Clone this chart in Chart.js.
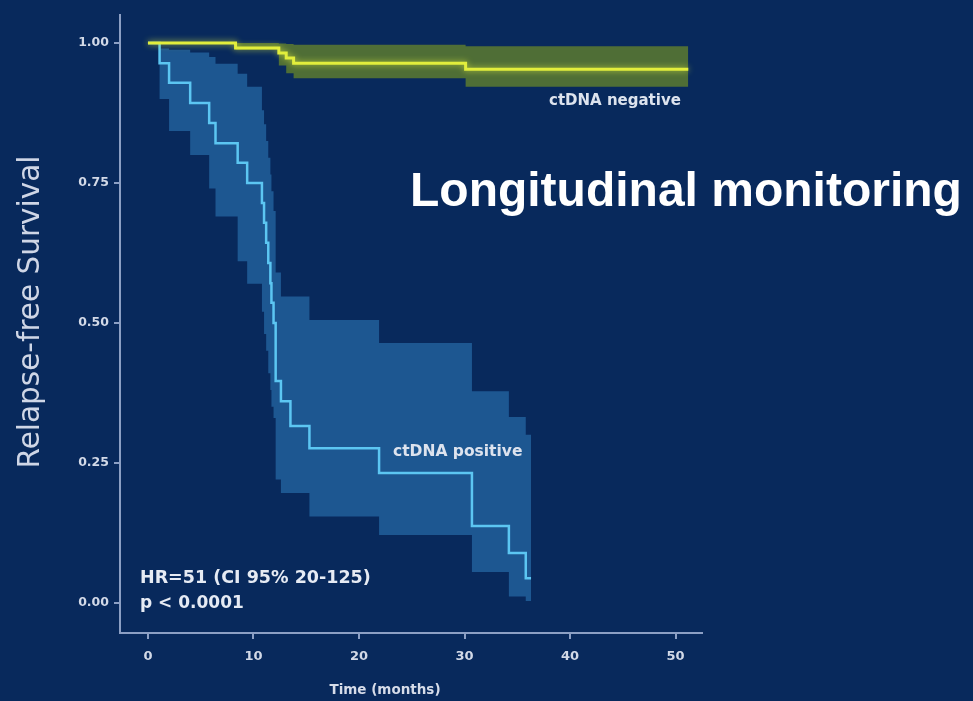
<!DOCTYPE html>
<html>
<head>
<meta charset="utf-8">
<script src="https://cdn.jsdelivr.net/npm/chart.js@4/dist/chart.umd.min.js"></script>
<style>
  html, body { margin: 0; padding: 0; background: #08295c; }
  #wrap { width: 973px; height: 701px; }
  canvas { display: block; }
</style>
</head>
<body>
<div id="wrap"><canvas id="km" width="973" height="701"></canvas></div>
<script>
// Kaplan–Meier relapse-free survival, time in months.
// ctDNA positive group: event times, survival estimate and 95% CI bounds
const posTime  = [0, 1.1, 2.0, 4.0, 5.8, 6.4, 8.5, 9.4, 10.8, 11.0, 11.2, 11.4, 11.6, 11.7, 11.9, 12.1, 12.6, 13.5, 15.3, 21.9, 30.7, 34.2, 35.8, 36.3];
const posSurv  = [1.0, 0.964, 0.929, 0.893, 0.857, 0.821, 0.786, 0.750, 0.714, 0.679, 0.643, 0.607, 0.571, 0.536, 0.500, 0.396, 0.360, 0.316, 0.276, 0.232, 0.137, 0.089, 0.044, 0.044];
const posUpper = [1.0, 0.990, 0.988, 0.983, 0.975, 0.963, 0.945, 0.922, 0.880, 0.855, 0.825, 0.795, 0.765, 0.735, 0.700, 0.590, 0.547, 0.547, 0.505, 0.464, 0.378, 0.332, 0.300, 0.300];
const posLower = [1.0, 0.900, 0.843, 0.800, 0.740, 0.690, 0.610, 0.570, 0.520, 0.480, 0.450, 0.410, 0.380, 0.350, 0.330, 0.220, 0.196, 0.196, 0.154, 0.121, 0.055, 0.011, 0.003, 0.003];

// ctDNA negative group
const negTime  = [0, 8.3, 12.4, 13.1, 13.8, 30.1, 51.2];
const negSurv  = [1.0, 0.991, 0.982, 0.973, 0.964, 0.953, 0.953];
const negUpper = [1.0, 1.0, 0.999, 0.998, 0.997, 0.994, 0.994];
const negLower = [1.0, 0.988, 0.960, 0.946, 0.937, 0.922, 0.922];

// axes
const xTicks = [0, 10, 20, 30, 40, 50];
const xTickLabels = ['0', '10', '20', '30', '40', '50'];
const yTicks = [0, 0.25, 0.5, 0.75, 1];
const yTickLabels = ['0.00', '0.25', '0.50', '0.75', '1.00'];
const seriesNames = ['ctDNA positive', 'ctDNA negative'];

const BG = '#08295c';
const AXIS = '#8c9fc4';
const TICK_TEXT = '#d2d9e7';

const toPoints = (xs, ys) => xs.map((x, i) => ({ x: x, y: ys[i] }));

const stepLine = (label, xs, ys, color, width, order) => ({
  label: label,
  data: toPoints(xs, ys),
  stepped: 'before',
  borderColor: color,
  borderWidth: width,
  pointRadius: 0,
  fill: false,
  order: order
});

const band = (label, xs, ys, fillColor, fillTarget) => ({
  label: label,
  data: toPoints(xs, ys),
  stepped: 'before',
  borderWidth: 0,
  borderColor: 'rgba(0,0,0,0)',
  backgroundColor: fillColor,
  pointRadius: 0,
  fill: fillTarget,
  order: 5
});

// background, glow on the negative curve, and text annotations
const decor = {
  id: 'decor',
  beforeDraw(chart) {
    const c = chart.ctx;
    c.save();
    c.fillStyle = BG;
    c.fillRect(0, 0, chart.width, chart.height);
    c.restore();
  },
  beforeDatasetDraw(chart, args) {
    if (args.meta.label === seriesNames[1]) {
      chart.ctx.save();
      chart.ctx.shadowColor = 'rgba(225,240,60,0.75)';
      chart.ctx.shadowBlur = 6;
    }
  },
  afterDatasetDraw(chart, args) {
    if (args.meta.label === seriesNames[1]) chart.ctx.restore();
  },
  afterDraw(chart) {
    const c = chart.ctx;
    c.save();
    // y axis title
    c.fillStyle = '#cfd6e6';
    c.font = '29.5px "DejaVu Sans"';
    c.textAlign = 'center';
    c.textBaseline = 'middle';
    c.translate(31, 312);
    c.rotate(-Math.PI / 2);
    c.fillText('Relapse-free Survival', 0, 0);
    c.restore();

    c.save();
    c.fillStyle = '#d6dce9';
    c.font = 'bold 13.5px "DejaVu Sans"';
    c.textAlign = 'center';
    c.textBaseline = 'middle';
    c.fillText('Time (months)', 385, 690);

    // headline
    c.fillStyle = '#ffffff';
    c.font = 'bold 48px "Liberation Sans"';
    c.textAlign = 'left';
    c.textBaseline = 'alphabetic';
    c.fillText('Longitudinal monitoring', 410, 206);

    // curve labels
    c.fillStyle = '#dde3ee';
    c.textBaseline = 'middle';
    c.font = 'bold 15px "DejaVu Sans"';
    c.fillText(seriesNames[1], 549, 101);
    c.font = 'bold 15.5px "DejaVu Sans"';
    c.fillText(seriesNames[0], 393, 452);

    // hazard ratio
    c.fillStyle = '#e6ebf4';
    c.font = 'bold 17.5px "DejaVu Sans"';
    c.fillText('HR=51 (CI 95% 20-125)', 140, 578);
    c.font = 'bold 17px "DejaVu Sans"';
    c.fillText('p < 0.0001', 140, 604);
    c.restore();
  }
};

new Chart(document.getElementById('km'), {
  type: 'line',
  data: {
    datasets: [
      stepLine(seriesNames[1], negTime, negSurv, '#e2ee3c', 3, 0),
      stepLine(seriesNames[0], posTime, posSurv, '#5cc6f2', 2.5, 1),
      band('neg upper', negTime, negUpper, '#4f6e36', '+1'),
      band('neg lower', negTime, negLower, 'rgba(0,0,0,0)', false),
      band('pos upper', posTime, posUpper, '#1d5791', '+1'),
      band('pos lower', posTime, posLower, 'rgba(0,0,0,0)', false)
    ]
  },
  options: {
    responsive: false,
    animation: false,
    devicePixelRatio: 1,
    layout: { padding: { left: 0, right: 271, top: 15, bottom: 0 } },
    plugins: {
      legend: { display: false },
      tooltip: { enabled: false },
      filler: { drawTime: 'beforeDatasetsDraw' }
    },
    scales: {
      x: {
        type: 'linear',
        min: -2.65,
        max: 52.5,
        afterFit: s => { s.height = 68; },
        afterBuildTicks: s => { s.ticks = xTicks.map(v => ({ value: v })); },
        ticks: {
          autoSkip: false,
          maxRotation: 0,
          padding: 10,
          color: TICK_TEXT,
          font: { family: 'DejaVu Sans', weight: 'bold', size: 13 },
          callback: v => xTickLabels[xTicks.indexOf(v)]
        },
        grid: { drawOnChartArea: false, drawTicks: true, tickLength: 6, color: AXIS, lineWidth: 2 },
        border: { display: true, color: AXIS, width: 2 }
      },
      y: {
        type: 'linear',
        min: -0.054,
        max: 1.05,
        afterFit: s => { s.width = 120; },
        afterBuildTicks: s => { s.ticks = yTicks.map(v => ({ value: v })); },
        ticks: {
          autoSkip: false,
          padding: 5,
          color: TICK_TEXT,
          font: { family: 'DejaVu Sans', weight: 'bold', size: 12.5 },
          callback: v => yTickLabels[yTicks.indexOf(v)]
        },
        grid: { drawOnChartArea: false, drawTicks: true, tickLength: 6, color: AXIS, lineWidth: 2 },
        border: { display: true, color: AXIS, width: 2 }
      }
    }
  },
  plugins: [decor]
});
</script>
</body>
</html>
